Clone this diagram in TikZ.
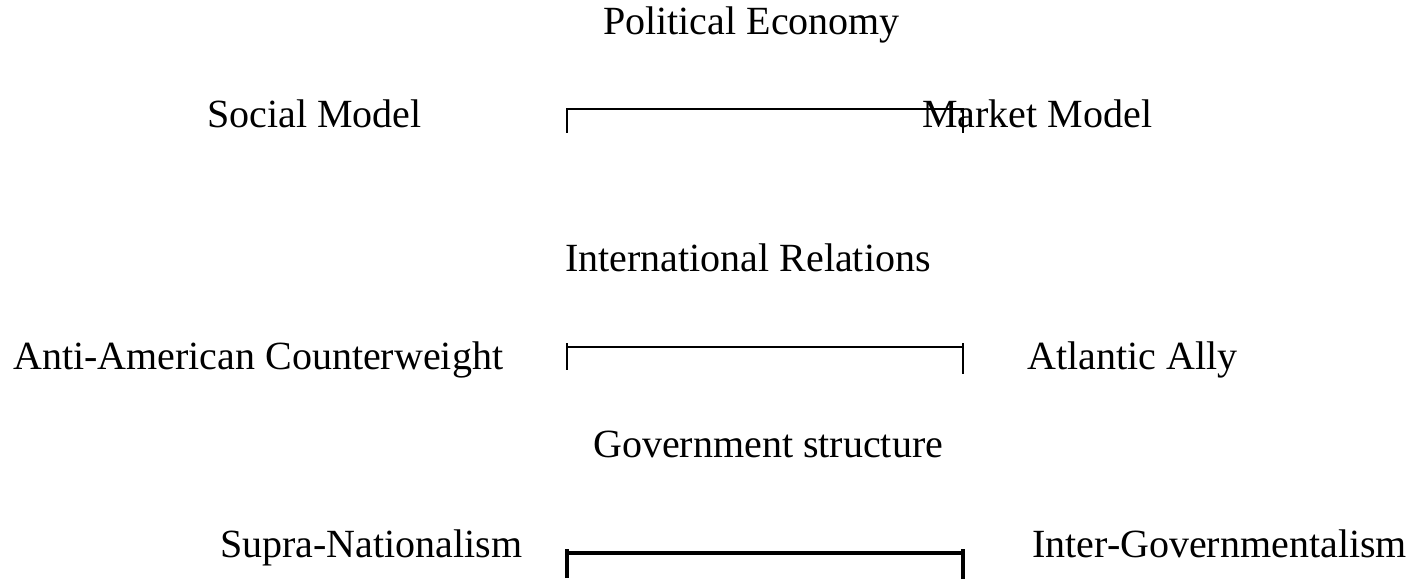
\documentclass[tikz,border=0pt]{standalone}
\usepackage{fontspec}
\setmainfont{Liberation Serif}
\usetikzlibrary{positioning}

\tikzset{
  label/.style={anchor=base west, inner sep=0pt, font=\fontsize{30}{36}\selectfont},
  scaleline/.style={line width=1.6pt, line cap=butt},
}

\begin{document}
\begin{tikzpicture}[x=0.75pt, y=-0.75pt]
	  \useasboundingbox (0,0) rectangle (1416,580);
	  % Political economy
	  \node[label] (pe) at (603,35) {Political Economy};
	  \node[label] (social) at (207,128) {Social Model};
	  \coordinate (pe_l) at (567,109);
	  \coordinate (pe_r) at (963,109);
	  \draw [scaleline] (pe_l) ++(0,24) -- (pe_l) -- (pe_r) -- ++(0,24);
	  \node[label] (market) at (922,128) {Market Model};
	  % International relations
	  \node[label] (ir) at (565,272) {International Relations};
	  \node[label] (anti) at (13,370) {Anti-American Counterweight};
	  \node[label] (atlantic) at (1027,370) {Atlantic Ally};
	  \coordinate (ir_l) at (567,347);
	  \coordinate (ir_r) at (963,347);
	  \draw [scaleline] (ir_l) ++(0,23) -- (ir_l) -- (ir_r) -- ++(0,27);
	  \draw [scaleline] (ir_l) -- ++(0,-4);
	  \draw [scaleline] (ir_r) -- ++(0,-4);
	  % Government structure
	  \node[label] (gs) at (593,457) {Government structure};
	  \node[label] (supra) at (220,557) {Supra-Nationalism};
	  \node[label] (inter) at (1032,557) {Inter-Governmentalism};
	  \coordinate (gs_l) at (567,553);
	  \coordinate (gs_r) at (963,553);
	  \draw [scaleline, line width=2.8pt] (gs_l) ++(0,25) -- (gs_l) -- (gs_r) -- ++(0,26);
	  \draw [scaleline, line width=2.8pt] (gs_l) -- ++(0,-4);
	  \draw [scaleline, line width=2.8pt] (gs_r) -- ++(0,-4);
\end{tikzpicture}
\end{document}
